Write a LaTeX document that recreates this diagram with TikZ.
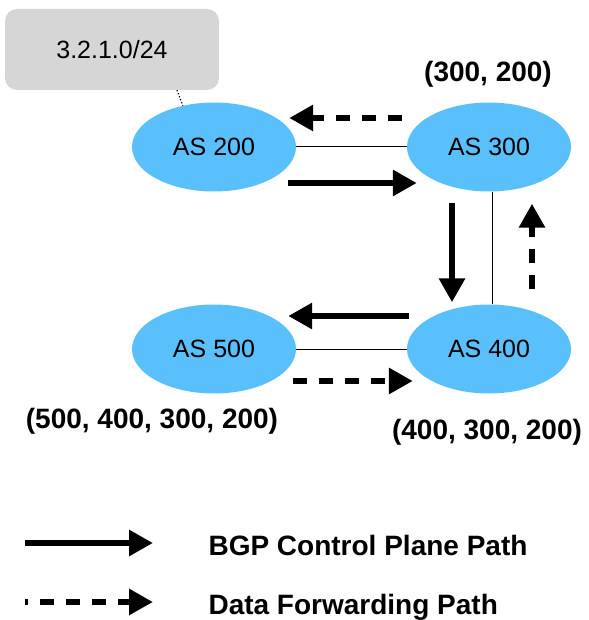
\documentclass[tikz,border=0pt]{standalone}
\usepackage{fontspec}
\setmainfont{Liberation Sans}
\usepackage{xcolor}
\usepackage{tikz}
\usetikzlibrary{shapes}
\usetikzlibrary{arrows.meta}

\definecolor{asblue}{RGB}{90,192,252}
\definecolor{prefixgray}{RGB}{214,214,214}

\begin{document}
\begin{tikzpicture}[x=1pt,y=-1pt,
		ctrl/.style={line width=6pt,-{Triangle[length=24pt,width=25pt]}},
		fwd/.style={ctrl,dash pattern=on 14pt off 12pt},
		pathlbl/.style={font=\fontsize{28}{34}\selectfont\bfseries,anchor=base}]
	\useasboundingbox (0,0) rectangle (588,620);
	
	\node[fill=prefixgray,rounded corners=12pt,minimum width=214pt,minimum height=81pt,
		font=\fontsize{25}{30}\selectfont] (P) at (112,49.5) {3.2.1.0/24};
	
	\begin{scope}[every node/.style={ellipse,fill=asblue,inner sep=0pt,
			minimum width=164pt,minimum height=89pt,font=\fontsize{25}{30}\selectfont}]
		\node (A) at (214,147) {AS 200};
		\node (B) at (489,147) {AS 300};
		\node (C) at (489,349) {AS 400};
		\node (D) at (214,349) {AS 500};
	\end{scope}
	
	\draw[line width=1pt] (A) -- (B);
	\draw[line width=1pt] ([xshift=3pt]B.south) -- ([xshift=3pt]C.north);
	\draw[line width=1pt] (D) -- (C);
	\draw[dotted,line width=1.2pt] ([xshift=65pt]P.south) -- (A.127);
	
	\node[pathlbl] (Bpath) at (488,82) {(300, 200)};
	\node[pathlbl] (Cpath) at (487,439) {(400, 300, 200)};
	\node[pathlbl] (Dpath) at (152,428) {(500, 400, 300, 200)};
	
	% control plane: 200 -> 300 -> 400 -> 500
	\draw[ctrl] ([shift={(-8,36)}]A.east) -- ([shift={(10,36)}]B.west);
	\draw[ctrl] ([shift={(-37,11)}]B.south) -- ([shift={(-37,-2)}]C.north);
	\draw[ctrl] ([shift={(2,-33)}]C.west) -- ([shift={(-8,-33)}]D.east);
	
	% data forwarding: 500 -> 400 -> 300 -> 200
	\draw[fwd] ([shift={(-3,32)}]D.east) -- ([shift={(6,32)}]C.west);
	\draw[fwd] ([shift={(43,-15)}]C.north) -- ([shift={(43,12)}]B.south);
	\draw[fwd] ([shift={(-5,-29)}]B.west) -- ([shift={(-7,-29)}]A.east);
	
	% legend
	\node[pathlbl,anchor=base west] (L1) at (205,555) {BGP Control Plane Path};
	\node[pathlbl,anchor=base west] (L2) at (205,614) {Data Forwarding Path};
	\coordinate (l1s) at (25,543);
	\coordinate (l1e) at (153,543);
	\coordinate (l2s) at (25,602);
	\coordinate (l2e) at (153,602);
	\draw[ctrl] (l1s) -- (l1e);
	\draw[fwd,dash phase=11pt] (l2s) -- (l2e);
\end{tikzpicture}
\end{document}
